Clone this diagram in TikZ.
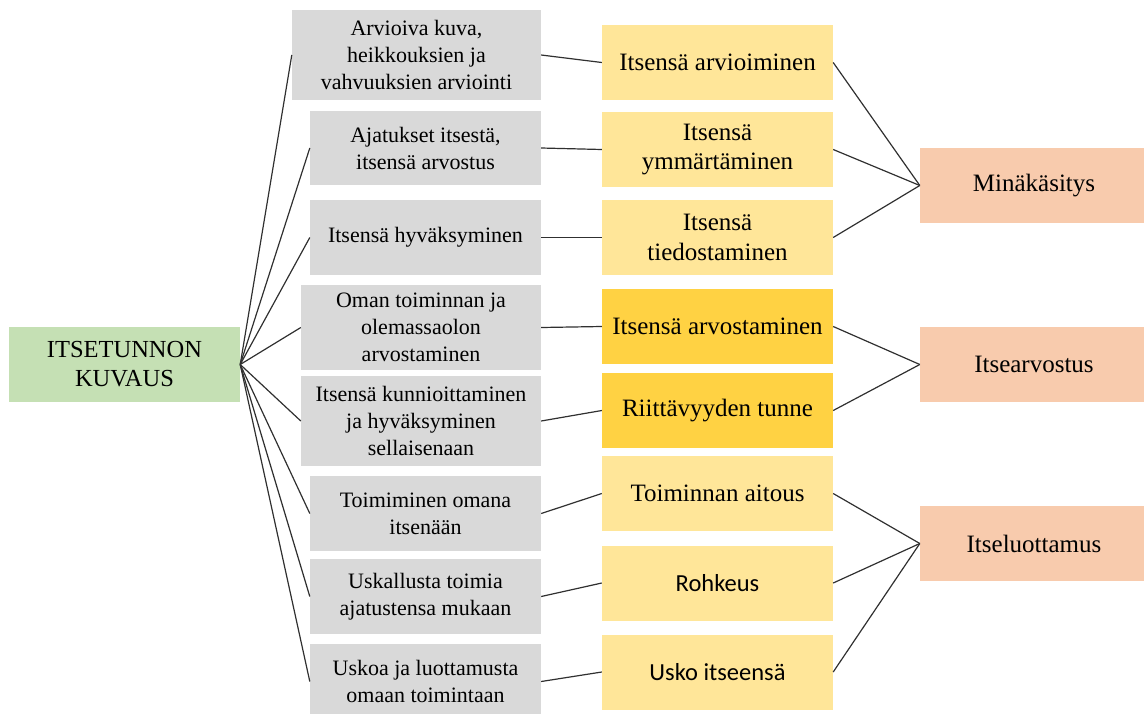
\documentclass[tikz,border=0pt]{standalone}
\usepackage{fontspec}
\setmainfont{Liberation Serif}
\newfontfamily\calibrifont{Carlito}
\usepackage{xcolor}
\definecolor{boxgrey}{HTML}{D9D9D9}
\definecolor{boxgreen}{HTML}{C5E0B4}
\definecolor{paleyellow}{HTML}{FFE699}
\definecolor{goldyellow}{HTML}{FFD243}
\definecolor{boxsalmon}{HTML}{F8CBAD}
\definecolor{linegrey}{HTML}{303030}
\begin{document}
\begin{tikzpicture}[x=1pt,y=-1pt,
    box/.style={inner sep=0pt,align=center,font=\rmfamily\fontsize{22}{27}\selectfont},
    bigbox/.style={box,font=\rmfamily\fontsize{25}{29.5}\selectfont},
    greybox/.style={box,fill=boxgrey,minimum height=75pt,minimum width=231pt},
    paleybox/.style={bigbox,fill=paleyellow,minimum height=75pt,minimum width=231pt},
    goldbox/.style={bigbox,fill=goldyellow,minimum height=75pt,minimum width=231pt},
    salmonbox/.style={bigbox,fill=boxsalmon,minimum height=75pt,minimum width=228pt},
    sansbox/.style={paleybox,font=\calibrifont\fontsize{24.5}{29.5}\selectfont},
    link/.style={draw=linegrey,line width=1.2pt}]
    \useasboundingbox (0,0) rectangle (1144,713);
    \clip (0,0) rectangle (1144,713);
    \node [bigbox,fill=boxgreen,minimum width=231pt,minimum height=75pt,font=\rmfamily\fontsize{24.5}{29}\selectfont] (root) at (124.5,364.5) {ITSETUNNON\\KUVAUS};
    \node [greybox,minimum width=249pt,minimum height=90pt] (kuva) at (416.5,55) {Arvioiva kuva,\\heikkouksien ja\\vahvuuksien arviointi};
    \node [greybox,minimum height=74pt] (ajatukset) at (425.5,148) {Ajatukset itsestä,\\itsensä arvostus};
    \node [greybox] (hyvaks) at (425.5,237.5) {Itsensä hyväksyminen};
    \node [greybox,minimum width=240pt,minimum height=85pt] (oman) at (421,327.5) {Oman toiminnan ja\\olemassaolon\\arvostaminen};
    \node [greybox,minimum width=240pt,minimum height=90pt] (kunnio) at (421,421) {Itsensä kunnioittaminen\\ja hyväksyminen\\sellaisenaan};
    \node [greybox] (toimim) at (425.5,513.5) {Toimiminen omana\\itsenään};
    \node [greybox] (uskal) at (425.5,596.5) {Uskallusta toimia\\ajatustensa mukaan};
    \node [greybox] (uskoa) at (425.5,681.5) {Uskoa ja luottamusta\\omaan toimintaan};
    \node [paleybox] (arvioim) at (717.5,62.5) {Itsensä arvioiminen};
    \node [paleybox] (ymmart) at (717.5,149.5) {Itsensä\\ymmärtäminen};
    \node [paleybox] (tiedost) at (717.5,237.5) {Itsensä\\tiedostaminen};
    \node [goldbox] (arvost) at (717.5,326.5) {Itsensä arvostaminen};
    \node [goldbox] (riitt) at (717.5,410.5) {Riittävyyden tunne};
    \node [paleybox] (aitous) at (717.5,493.5) {Toiminnan aitous};
    \node [sansbox] (rohkeus) at (717.5,583) {Rohkeus};
    \node [sansbox] (usko) at (717.5,672) {Usko itseensä};
    \node [salmonbox] (mina) at (1034,185.5) {Minäkäsitys};
    \node [salmonbox] (itsearv) at (1034,364.5) {Itsearvostus};
    \node [salmonbox] (itselu) at (1034,543.5) {Itseluottamus};
    \foreach \g/\y in {kuva/arvioim,ajatukset/ymmart,hyvaks/tiedost,oman/arvost,kunnio/riitt,toimim/aitous,uskal/rohkeus,uskoa/usko}
        {\draw [link] (root.east) -- (\g.west);
         \draw [link] (\g.east) -- (\y.west);}
    \foreach \y in {arvioim,ymmart,tiedost}
        \draw [link] (\y.east) -- (mina.west);
    \foreach \y in {arvost,riitt}
        \draw [link] (\y.east) -- (itsearv.west);
    \foreach \y in {aitous,rohkeus,usko}
        \draw [link] (\y.east) -- (itselu.west);
\end{tikzpicture}
\end{document}
